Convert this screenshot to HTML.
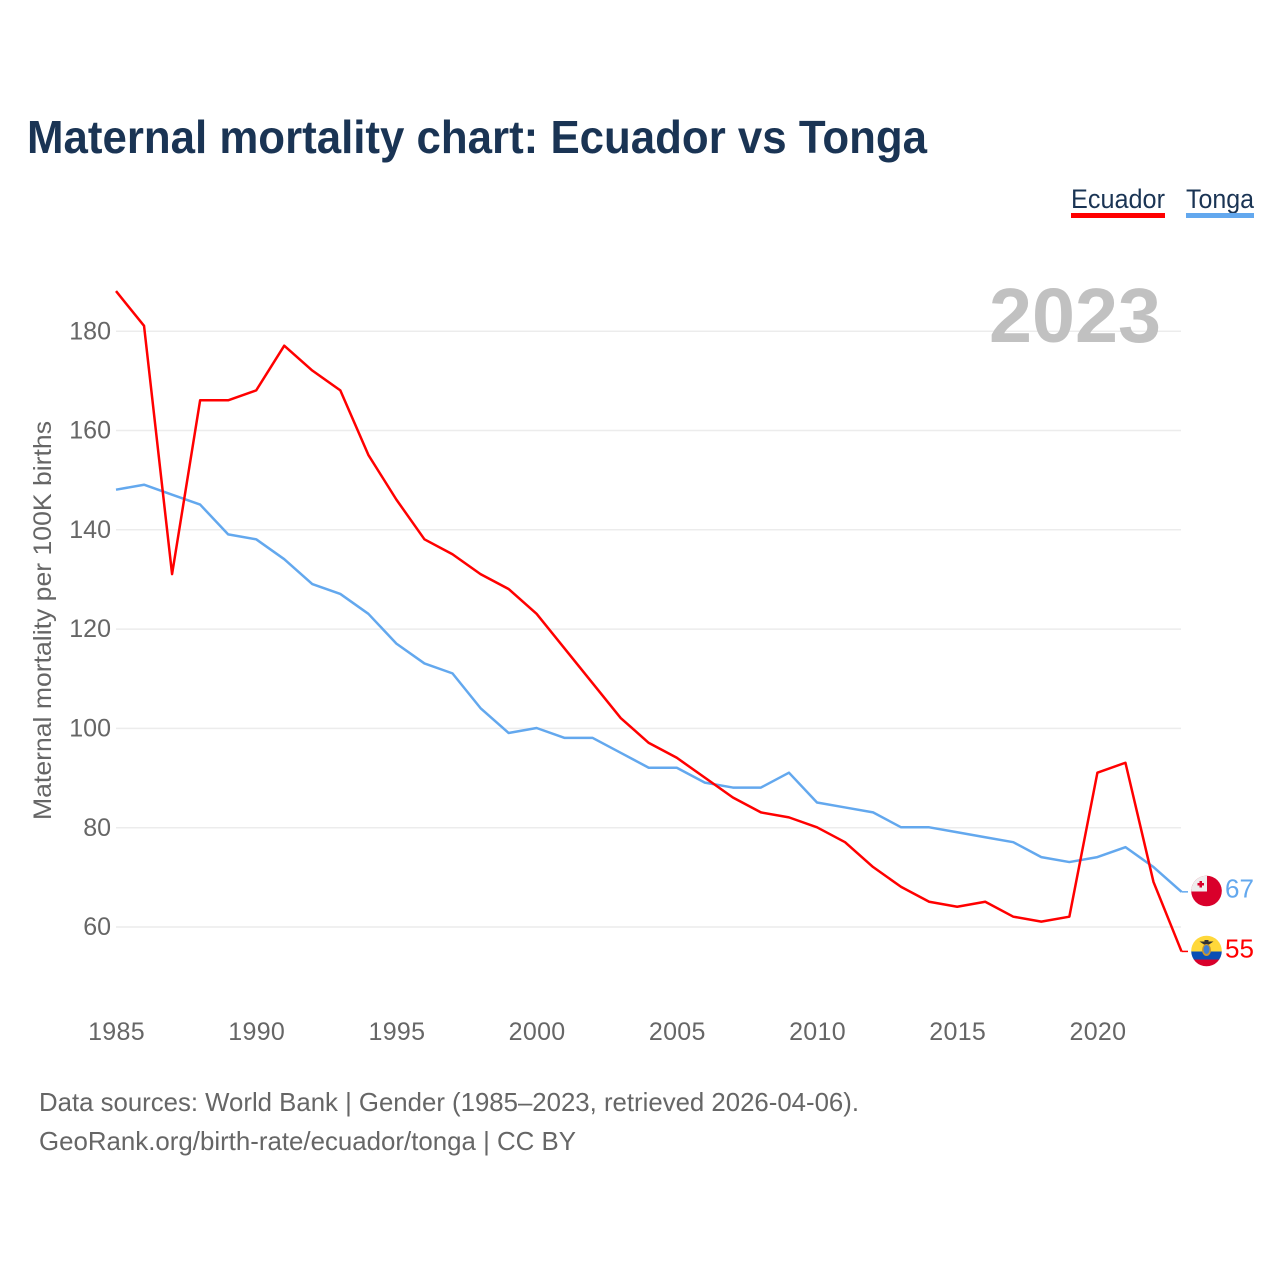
<!DOCTYPE html>
<html lang="en">
<head>
<meta charset="utf-8">
<title>Maternal mortality chart: Ecuador vs Tonga</title>
<style>
html,body{margin:0;padding:0;background:#fff;width:1280px;height:1280px;overflow:hidden}
svg{display:block;font-family:"Liberation Sans",sans-serif}
</style>
</head>
<body>
<svg id="chart" xmlns="http://www.w3.org/2000/svg" width="1280" height="1280" viewBox="0 0 1280 1280">
  <defs>
    <clipPath id="clip-tonga"><circle cx="1206.5" cy="891" r="15.3"/></clipPath>
    <clipPath id="clip-ecuador"><circle cx="1206.5" cy="951" r="15.3"/></clipPath>
  </defs>
  <rect width="1280" height="1280" fill="#fff"/>
  <text x="27" y="153" font-size="46" font-weight="700" fill="#1a3454" textLength="900" lengthAdjust="spacingAndGlyphs">Maternal mortality chart: Ecuador vs Tonga</text>

  <g>
    <g>
      <text x="1071" y="208" font-size="27" fill="#1a3454" textLength="94" lengthAdjust="spacingAndGlyphs">Ecuador</text>
      <rect x="1071" y="213" width="94" height="5" fill="#ff0000"/>
    </g>
    <g>
      <text x="1186" y="208" font-size="27" fill="#1a3454" textLength="68" lengthAdjust="spacingAndGlyphs">Tonga</text>
      <rect x="1186" y="213" width="68" height="5" fill="#63a8ee"/>
    </g>
  </g>

  <g id="grid"></g>
  <g id="yticks"></g>
  <g id="xticks"></g>

  <text x="989" y="342" font-size="77" font-weight="700" fill="#c1c1c1" textLength="172" lengthAdjust="spacingAndGlyphs">2023</text>

  <text transform="translate(51,820) rotate(-90)" font-size="25" fill="#666" textLength="399" lengthAdjust="spacingAndGlyphs">Maternal mortality per 100K births</text>

  <g id="series"></g>

  <g clip-path="url(#clip-tonga)">
    <rect x="1191" y="875" width="31" height="32" fill="#d9002b"/>
    <rect x="1191" y="875" width="16" height="16.500" fill="#eeeeee"/>
    <path d="M1199.500 881h2.500v2h2v2.500h-2v2h-2.500v-2h-2v-2.500h2z" fill="#d9002b"/>
  </g>
  <g clip-path="url(#clip-ecuador)">
    <rect x="1191" y="935" width="31" height="16.500" fill="#ffd83a"/>
    <rect x="1191" y="951.500" width="31" height="8" fill="#0a4fb5"/>
    <rect x="1191" y="959.500" width="31" height="8" fill="#d9002b"/>
    <path d="M1199.500 941.500h14l-4.500 3h-5z" fill="#333"/>
    <path d="M1204.500 940h4v3h-4z" fill="#333"/>
    <ellipse cx="1206.500" cy="950" rx="4.500" ry="6" fill="#c9962f"/>
    <ellipse cx="1206.500" cy="949.500" rx="3" ry="4.500" fill="#3f7fd6"/>
  </g>

  <g id="endlabels"></g>

  <text x="39" y="1111" font-size="26" fill="#666" textLength="820" lengthAdjust="spacingAndGlyphs">Data sources: World Bank | Gender (1985–2023, retrieved 2026-04-06).</text>
  <text x="39" y="1150" font-size="26" fill="#666" textLength="537" lengthAdjust="spacingAndGlyphs">GeoRank.org/birth-rate/ecuador/tonga | CC BY</text>
</svg>
<script>
const years = [1985,1986,1987,1988,1989,1990,1991,1992,1993,1994,1995,1996,1997,1998,1999,2000,2001,2002,2003,2004,2005,2006,2007,2008,2009,2010,2011,2012,2013,2014,2015,2016,2017,2018,2019,2020,2021,2022,2023];
const ecuador = [188,181,131,166,166,168,177,172,168,155,146,138,135,131,128,123,116,109,102,97,94,90,86,83,82,80,77,72,68,65,64,65,62,61,62,91,93,69,55];
const tonga = [148,149,147,145,139,138,134,129,127,123,117,113,111,104,99,100,98,98,95,92,92,89,88,88,91,85,84,83,80,80,79,78,77,74,73,74,76,72,67];
const yTickValues = [60,80,100,120,140,160,180];
const xTickValues = [1985,1990,1995,2000,2005,2010,2015,2020];

const NS = 'http://www.w3.org/2000/svg';
function xScale(year){ return 116 + (year - 1985) * 28.04; }
function yScale(v){ return 330.8 + (180 - v) * 4.965; }
function make(tag, attrs, parent, text){
  const el = document.createElementNS(NS, tag);
  for (const k in attrs) el.setAttribute(k, attrs[k]);
  if (text !== undefined) el.textContent = text;
  parent.appendChild(el);
  return el;
}
const gridG = document.getElementById('grid');
const yG = document.getElementById('yticks');
const xG = document.getElementById('xticks');
const seriesG = document.getElementById('series');
const endG = document.getElementById('endlabels');

yTickValues.forEach(function(v){
  const gy = yScale(v) + 0.4;
  const line = make('line', {x1:116, x2:1181, y1:gy, y2:gy, stroke:'#ececec', 'stroke-width':1.5}, gridG);
  
  
  const t = make('text', {x:111, y:yScale(v)+8.5, 'text-anchor':'end', 'font-size':25, fill:'#666'}, yG, String(v));
  
  
});
xTickValues.forEach(function(y){
  const t = make('text', {x:xScale(y)+0.5, y:1040, 'text-anchor':'middle', 'font-size':25, fill:'#666', 'letter-spacing':'0.3'}, xG, String(y));
  
  
});
function pathFor(vals){
  const pts = vals.map(function(v,i){ return xScale(years[i]).toFixed(2) + ',' + yScale(v).toFixed(2); });
  return 'M' + pts.join('L');
}
function connector(vals, color, name){
  const last = vals[vals.length-1];
  const c = make('line', {x1:xScale(years[years.length-1]), x2:1188, y1:yScale(last), y2:yScale(last), stroke:color, 'stroke-width':1.5}, seriesG);
  
  
}
const lineTonga = make('path', {d:pathFor(tonga), fill:'none', stroke:'#63a8ee', 'stroke-width':2.5, 'stroke-linejoin':'round'}, seriesG);


connector(tonga, '#63a8ee', 'connector-tonga');
const lineEcuador = make('path', {d:pathFor(ecuador), fill:'none', stroke:'#ff0000', 'stroke-width':2.5, 'stroke-linejoin':'round'}, seriesG);


connector(ecuador, '#ff0000', 'connector-ecuador');

const lastT = tonga[tonga.length-1];
const lastE = ecuador[ecuador.length-1];
const labelT = make('text', {x:1225, y:yScale(lastT)+5.5, 'font-size':26, fill:'#63a8ee'}, endG, String(lastT));


const labelE = make('text', {x:1225, y:yScale(lastE)+6, 'font-size':26, fill:'#ff0000'}, endG, String(lastE));


</script>
</body>
</html>
